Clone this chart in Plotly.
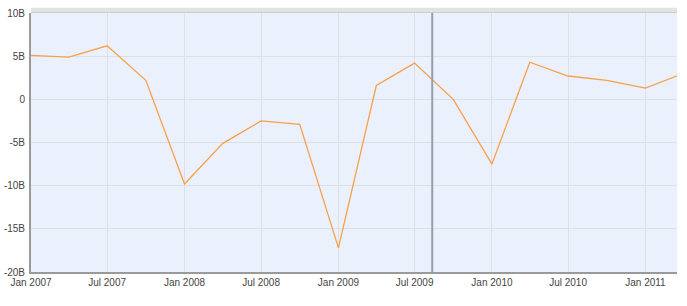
import plotly.graph_objects as go

dates = ["2007-01-01", "2007-04-01", "2007-07-01", "2007-10-01",
         "2008-01-01", "2008-04-01", "2008-07-01", "2008-10-01",
         "2009-01-01", "2009-04-01", "2009-07-01", "2009-10-01",
         "2010-01-01", "2010-04-01", "2010-07-01", "2010-10-01",
         "2011-01-01", "2011-04-01"]
values = [5.1, 4.9, 6.2, 2.2,
          -9.8, -5.1, -2.5, -2.9,
          -17.2, 1.6, 4.2, 0.0,
          -7.5, 4.3, 2.7, 2.2,
          1.3, 3.0]
y_tickvals = [-20, -15, -10, -5, 0, 5, 10]
y_ticktext = ["-20B", "-15B", "-10B", "-5B", "0", "5B", "10B"]
marker_date = "2009-08-12"
x_range = ["2007-01-01", "2011-03-17"]
y_range = [-20, 10]

fig = go.Figure()
fig.add_trace(go.Scatter(x=dates, y=values, mode="lines",
                         line=dict(color="#f7a04a", width=1.3),
                         hoverinfo="skip"))

fig.add_shape(type="line", xref="x", yref="paper", x0=marker_date, x1=marker_date,
              y0=0, y1=1, line=dict(color="#959fab", width=2))
fig.add_shape(type="rect", xref="paper", yref="paper", x0=0, x1=1,
              y0=1, y1=1.02, line=dict(width=0), fillcolor="#e2e2e2")
fig.add_shape(type="line", xref="paper", yref="paper", x0=0, x1=1,
              y0=1.002, y1=1.002, line=dict(color="#cccccc", width=1))

fig.update_layout(
    width=687, height=306,
    margin=dict(l=31, r=10, t=13, b=34),
    paper_bgcolor="white",
    plot_bgcolor="#ebf1fc",
    showlegend=False,
    font=dict(family="Liberation Sans, Arial, sans-serif", size=10, color="#444444"),
    xaxis=dict(type="date", range=x_range, dtick="M6", tick0="2007-01-01",
               tickformat="%b %Y", showgrid=True, gridcolor="#dcdfe4", gridwidth=1,
               showline=True, linecolor="#9a9a9a", linewidth=2,
               ticks="", zeroline=False, fixedrange=True, automargin=False),
    yaxis=dict(range=y_range, tickmode="array", tickvals=y_tickvals, ticktext=y_ticktext,
               showgrid=True, gridcolor="#dcdfe4", gridwidth=1,
               zeroline=True, zerolinecolor="#dcdfe4", zerolinewidth=1,
               showline=True, linecolor="#9a9a9a", linewidth=2,
               ticks="", ticklabelstandoff=2, fixedrange=True, automargin=False),
)
fig.write_html("out.html")
